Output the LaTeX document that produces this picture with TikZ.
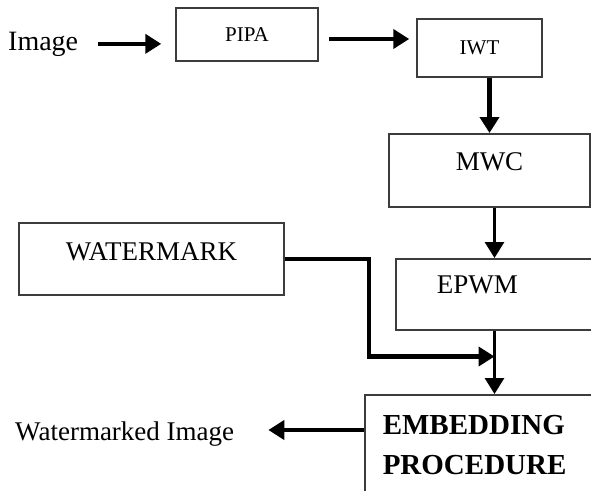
\documentclass[tikz,border=0pt]{standalone}
\usepackage{fontspec}
\setmainfont{Liberation Serif}
\usepackage{xcolor}
\definecolor{BoxGray}{HTML}{3C3C3C}
\usetikzlibrary{positioning,calc,arrows.meta}

\begin{document}
\begin{tikzpicture}[x=1pt,y=-1pt,
 blk/.style={draw=BoxGray,line width=1.5pt,inner sep=0pt,font=\fontsize{27}{30}\selectfont},
 lbl/.style={inner sep=0pt,font=\fontsize{27}{30}\selectfont},
 arr/.style={line width=4.5pt,-{Triangle[length=16pt,width=19pt]}},
 thin/.style={line width=3pt}]
\clip (0,0) rectangle (591,490);
\node[lbl,anchor=base west,font=\fontsize{28}{30}\selectfont] (img) at (8,50) {Image};
\node[blk,minimum width=142pt,minimum height=53pt,font=\fontsize{21}{24}\selectfont] (pipa) at (247,34.5) {PIPA};
\node[blk,minimum width=125pt,minimum height=58pt,font=\fontsize{21}{24}\selectfont] (iwt) at (479.5,48) {IWT};
\node[blk,anchor=north,minimum width=201pt,text height=37pt,text depth=36pt] (mwc) at (489.5,133) {MWC};
\node[blk,anchor=north west,text width=150pt,align=left,inner xsep=41pt,text height=35pt,text depth=36pt] (epwm) at (395,258) {EPWM};
\node[blk,anchor=north,minimum width=265pt,text height=38pt,text depth=34pt] (wm) at (151.5,222) {WATERMARK};
\node[blk,anchor=north west,text width=220pt,align=left,inner xsep=18pt,inner ysep=21pt,
 font=\fontsize{29}{40}\selectfont\bfseries] (emb) at (364,394) {EMBEDDING\\PROCEDURE};
\node[lbl,anchor=base west] (wmi) at (15,440) {Watermarked Image};
\coordinate (a1) at ([xshift=10pt,yshift=-4.5pt]pipa.east);
\coordinate (m1) at ([xshift=5pt]mwc.south);
\coordinate (jn) at ($(m1 |- epwm.south)+(0,26)$);
\coordinate (o1) at ([yshift=-36pt]emb.north west);
\draw[arr,shorten <=20pt,shorten >=14pt] (img.east) -- (img.east -| pipa.west);
\draw[arr,shorten >=7pt] (a1) -- (a1 -| iwt.west);
\draw[arr] (iwt.south -| mwc.north) -- (mwc.north);
\draw[arr,thin] (m1) -- (m1 |- epwm.north);
\draw[arr] (wm.east) -- ++(84,0) |- (jn);
\draw[arr,thin] (m1 |- epwm.south) -- (m1 |- emb.north);
\draw[arr,shorten >=34pt] (o1) -- (o1 -| wmi.east);
\end{tikzpicture}
\end{document}
